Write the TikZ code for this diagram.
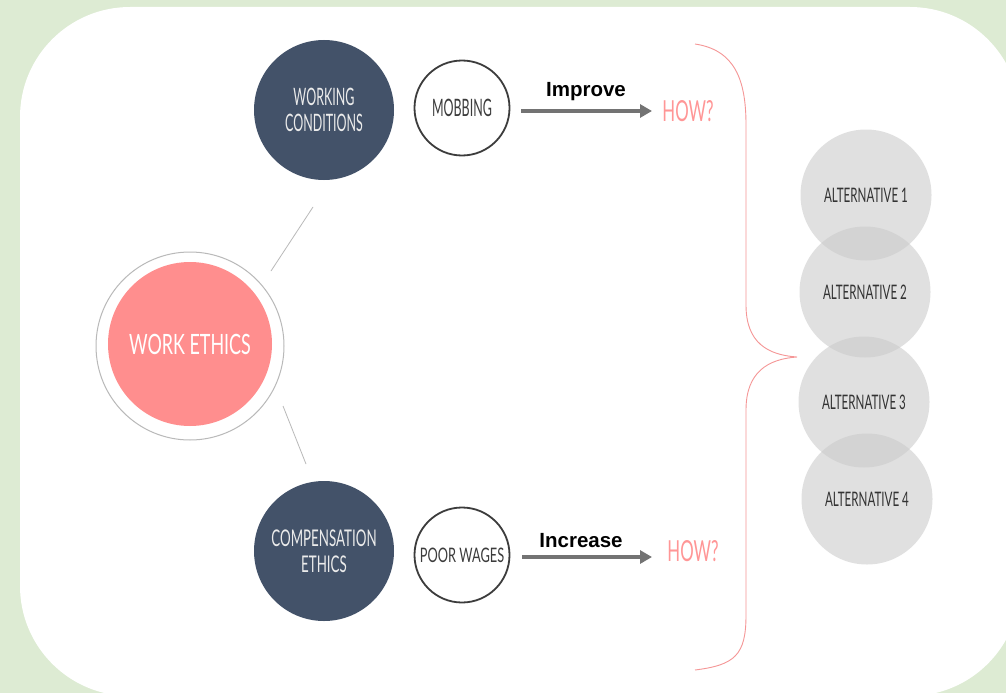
\documentclass[tikz,border=0pt]{standalone}
\usepackage{fontspec}
\usetikzlibrary{arrows.meta}
% condensed faces at three widths
\newfontfamily\condA[FakeStretch=0.52]{Lato}
\newfontfamily\condB[FakeStretch=0.58]{Lato}
\newfontfamily\condC[FakeStretch=0.64]{Lato}
\newfontfamily\arialf{Liberation Sans}
\definecolor{bggreen}{RGB}{221,235,211}
\definecolor{slate}{RGB}{67,82,105}
\definecolor{salmon}{RGB}{255,142,142}
\definecolor{howpink}{RGB}{255,150,150}
\definecolor{bracepink}{RGB}{245,150,150}
\definecolor{ringgray}{RGB}{185,185,185}
\definecolor{altgray}{RGB}{202,202,202}
\definecolor{darktext}{RGB}{60,60,60}
\tikzset{
  topic/.style={circle, fill=slate, minimum size=140pt, inner sep=0pt,
    text=white!92!black, align=center},
  issue/.style={circle, draw=darktext, line width=1.8pt, fill=white,
    minimum size=95pt, inner sep=0pt, text=darktext},
  howtxt/.style={text=howpink, font=\condB\fontsize{29}{33}\selectfont, inner sep=1pt},
  verb/.style={font=\arialf\bfseries\fontsize{20.5}{24}\selectfont, text=black},
  actarrow/.style={draw=black!55, line width=4pt,
    -{Triangle[length=12pt,width=13pt]}},
  link/.style={draw=ringgray, line width=0.8pt},
  altbubble/.style={circle, fill=altgray, fill opacity=0.58, text opacity=1,
    minimum size=131pt, inner sep=0pt, text=black!80,
    font=\condB\fontsize{20}{23}\selectfont},
}
\begin{document}
\begin{tikzpicture}[x=1pt,y=-1pt]
  \useasboundingbox (0,0) rectangle (1006,693);
  \clip (0,0) rectangle (1006,693);
  % page background and white panel
  \fill[bggreen] (0,0) rectangle (1006,693);
  \fill[white, rounded corners=110pt] (20,7) rectangle (1020,696);

  % central topic
  \node[circle, draw=ringgray, line width=1pt, minimum size=188pt, inner sep=0pt] (ring) at (190,346) {};
  \node[circle, fill=salmon, minimum size=164pt, inner sep=0pt, text=white,
        font=\condC\fontsize{28}{32}\selectfont] (we) at (190,344) {WORK ETHICS};

  % sub-topics
  \node[topic, font=\condA\fontsize{24}{26}\selectfont] (wc) at (324,110) {WORKING\\CONDITIONS};
  \node[topic, font=\condB\fontsize{23}{26}\selectfont] (ce) at (324,551) {COMPENSATION\\ETHICS};

  % links from the central topic
  \coordinate (l1a) at (271,271);
  \coordinate (l1b) at (313,207);
  \coordinate (l2a) at (283,406);
  \coordinate (l2b) at (306,464);
  \draw[link] (l1a) -- (l1b);
  \draw[link] (l2a) -- (l2b);

  % issues
  \node[issue, font=\condA\fontsize{24}{26}\selectfont] (mob) at (462,108) {MOBBING};
  \node[issue, font=\condC\fontsize{20}{23}\selectfont] (pw) at (462,555) {POOR WAGES};

  % questions
  \node[howtxt] (how1) at (688,111) {HOW?};
  \node[howtxt] (how2) at (693,551) {HOW?};

  % actions
  \coordinate (a1s) at (521,111);
  \coordinate (a1e) at (652,111);
  \coordinate (a2s) at (522,557);
  \coordinate (a2e) at (652,557);
  \draw[actarrow] (a1s) -- (a1e);
  \draw[actarrow] (a2s) -- (a2e);
  \node[verb] (imp) at (586,92) {Improve};
  \node[verb] (inc) at (581,541) {Increase};

  % brace grouping both questions
  \coordinate (btop) at (695,44);
  \coordinate (btip) at (797,357);
  \coordinate (bbot) at (695,670);
  \draw[bracepink, line width=0.9pt]
    (btop) .. controls (735,50) and (746,80) .. (746,125)
    -- (746,305) .. controls (746,343) and (768,355) .. (btip)
    .. controls (768,359) and (746,372) .. (746,410)
    -- (746,615) .. controls (746,655) and (735,665) .. (bbot);

  % alternatives
  \node[altbubble] (alt1) at (866,195) {ALTERNATIVE 1};
  \node[altbubble] (alt2) at (865,292) {ALTERNATIVE 2};
  \node[altbubble] (alt3) at (864,402) {ALTERNATIVE 3};
  \node[altbubble] (alt4) at (867,499) {ALTERNATIVE 4};
\end{tikzpicture}
\end{document}
